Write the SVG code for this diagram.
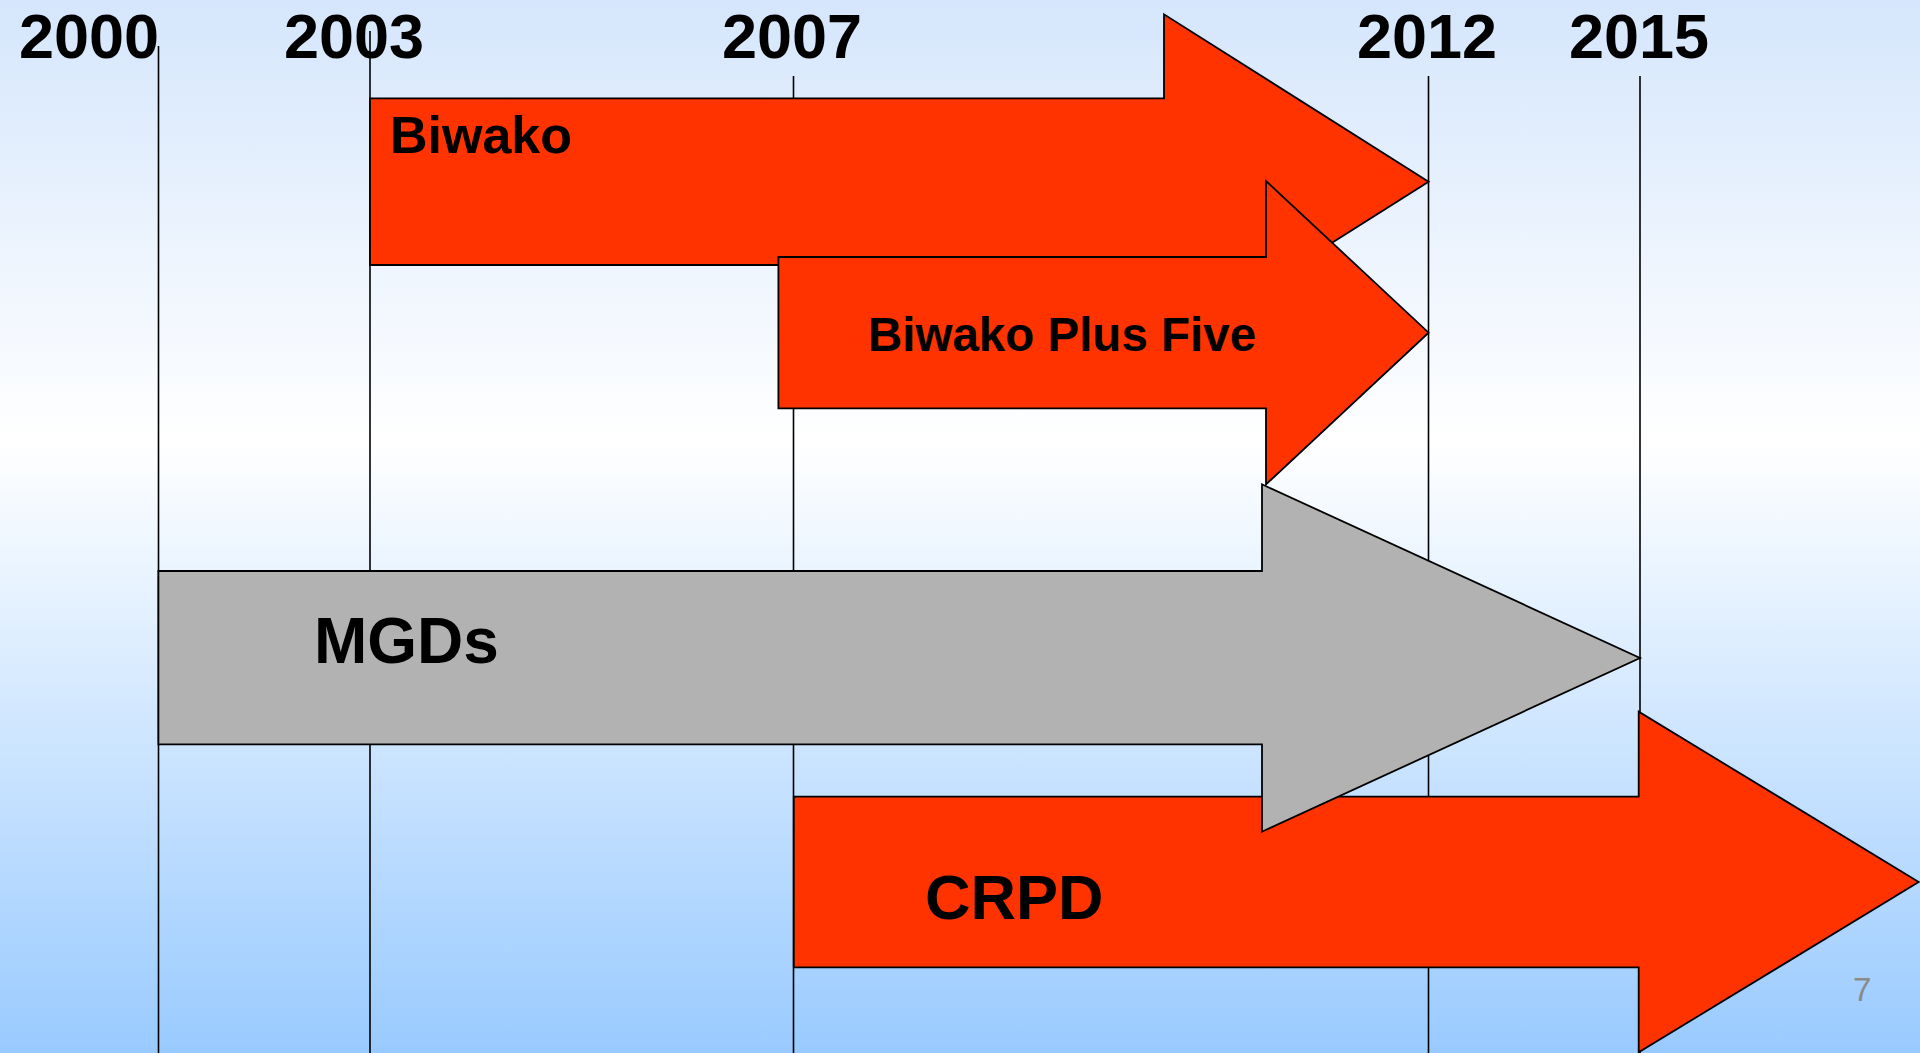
<svg xmlns="http://www.w3.org/2000/svg" width="1920" height="1053" viewBox="0 0 1920 1053">
<defs>
<linearGradient id="bg" x1="0" y1="0" x2="0" y2="1">
<stop offset="0" stop-color="#d5e6fc"/>
<stop offset="0.42" stop-color="#ffffff"/>
<stop offset="1" stop-color="#99caff"/>
</linearGradient>
</defs>
<style>
.yr{font-family:"Liberation Sans",Arial,sans-serif;font-weight:bold;font-size:63px;fill:#000}
.lbl{font-family:"Liberation Sans",Arial,sans-serif;font-weight:bold;fill:#000}
.grid{stroke:#000;stroke-width:1.6;fill:none}
.red{fill:#ff3300;stroke:#000;stroke-width:1.8;stroke-linejoin:miter}
.gray{fill:#b2b2b2;stroke:#000;stroke-width:1.8;stroke-linejoin:miter}
</style>
<rect x="0" y="0" width="1920" height="1053" fill="url(#bg)"/>
<g id="years">
<text class="yr" x="19" y="58">2000</text>
<text class="yr" x="284" y="58">2003</text>
<text class="yr" x="722" y="58">2007</text>
<text class="yr" x="1357" y="58">2012</text>
<text class="yr" x="1569" y="58">2015</text>
</g>
<g id="connectors">
<line class="grid" x1="158.5" y1="46" x2="158.5" y2="1053"/>
<line class="grid" x1="370" y1="31" x2="370" y2="1053"/>
<line class="grid" x1="793.5" y1="76" x2="793.5" y2="1053"/>
<line class="grid" x1="1428.5" y1="76" x2="1428.5" y2="1053"/>
<line class="grid" x1="1640" y1="76" x2="1640" y2="1053"/>
</g>
<g id="biwako">
<polygon class="red" points="370,98.3 1164,98.3 1164,14.3 1428.6,181.7 1164,349 1164,265 370,265"/>
<text class="lbl" x="390" y="152.7" font-size="52">Biwako</text>
</g>
<g id="biwako-plus-five">
<polygon class="red" points="778.4,257 1266,257 1266,181 1428.6,332.7 1266,484.4 1266,408.3 778.4,408.3"/>
<text class="lbl" x="868" y="351" font-size="47.5">Biwako Plus Five</text>
</g>
<g id="crpd">
<polygon class="red" points="793.8,796.7 1638.7,796.7 1638.7,711.7 1918.7,882 1638.7,1052.3 1638.7,967.3 793.8,967.3"/>
<text class="lbl" x="925" y="919.3" font-size="63">CRPD</text>
</g>
<g id="mgds">
<polygon class="gray" points="158.4,571 1262,571 1262,484.3 1640,658 1262,831.7 1262,744.3 158.4,744.3"/>
<text class="lbl" x="314" y="662.7" font-size="64">MGDs</text>
</g>
<text x="1853" y="1000.7" font-family="Liberation Sans,Arial,sans-serif" font-size="33" fill="#8a8a8a">7</text>
</svg>
